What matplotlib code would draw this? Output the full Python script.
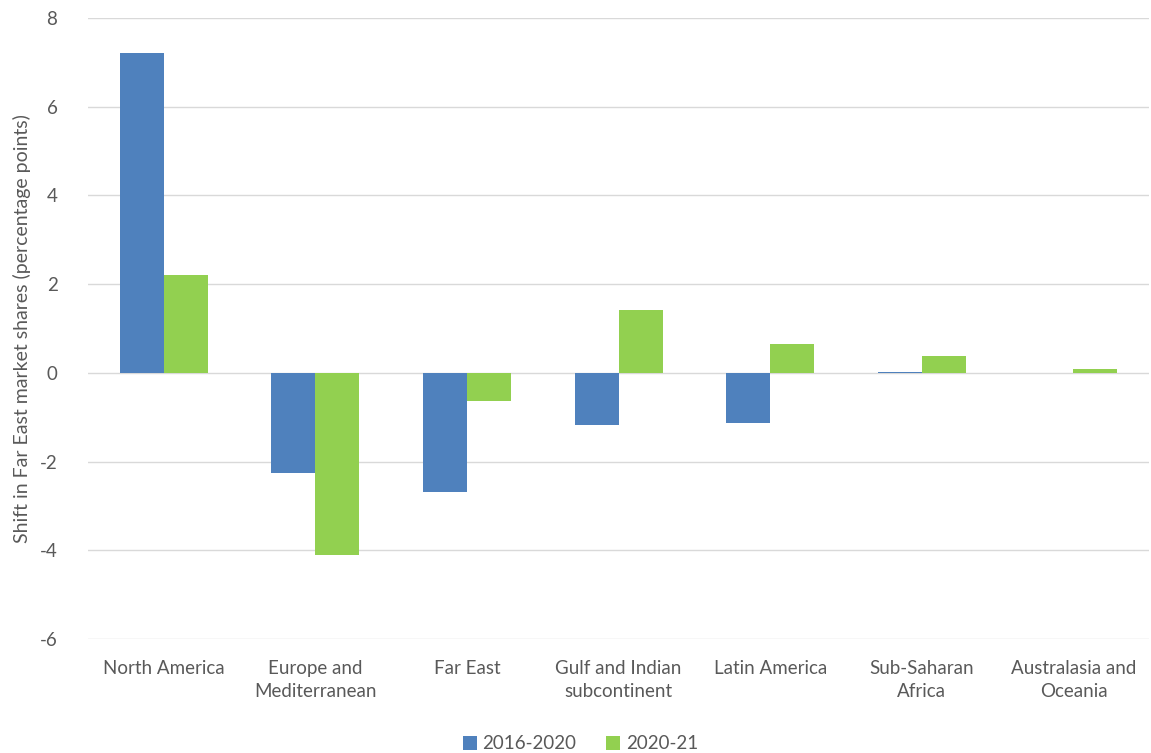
import numpy as np
import matplotlib.pyplot as plt

plt.rcParams['font.family'] = ['Lato', 'DejaVu Sans']
plt.rcParams['axes.unicode_minus'] = False

regions = ['North America', 'Europe and\nMediterranean', 'Far East', 'Gulf and Indian\nsubcontinent',
           'Latin America', 'Sub-Saharan\nAfrica', 'Australasia and\nOceania']
shift_2016_2020 = [7.21, -2.25, -2.69, -1.17, -1.13, 0.02, 0.0]
shift_2020_21 = [2.21, -4.10, -0.63, 1.41, 0.64, 0.37, 0.08]

fig = plt.figure(figsize=(11.51, 7.53), dpi=100)
ax = fig.add_axes([0.0765, 0.1514, 0.922, 0.8247])

x = np.arange(len(regions))
w = 0.29
ax.bar(x - w/2, shift_2016_2020, w, color='#4f81bd', label='2016-2020', zorder=3)
ax.bar(x + w/2, shift_2020_21, w, color='#92d050', label='2020-21', zorder=3)

ax.set_ylim(-6, 8)
ax.set_yticks(range(-6, 9, 2))
ax.set_xlim(-0.5, len(regions) - 0.5)
ax.set_xticks(x)
ax.set_xticklabels(regions, fontsize=13.5, color='#595959', linespacing=1.45)
ax.tick_params(axis='y', labelsize=13.5, colors='#595959', length=0, pad=22)
ax.tick_params(axis='x', length=0, pad=15)
ax.grid(axis='y', color='#d9d9d9', linewidth=1, zorder=0)
for s in ax.spines.values():
    s.set_visible(False)
ax.set_ylabel('Shift in Far East market shares (percentage points)', fontsize=14, color='#595959', labelpad=6)

ax.legend(loc='upper center', bbox_to_anchor=(0.464, -0.128), ncol=2, frameon=False,
          fontsize=13.5, labelcolor='#595959', handlelength=0.75, handleheight=0.75,
          handletextpad=0.3, columnspacing=1.6)

fig.savefig('out.png', dpi=100)
